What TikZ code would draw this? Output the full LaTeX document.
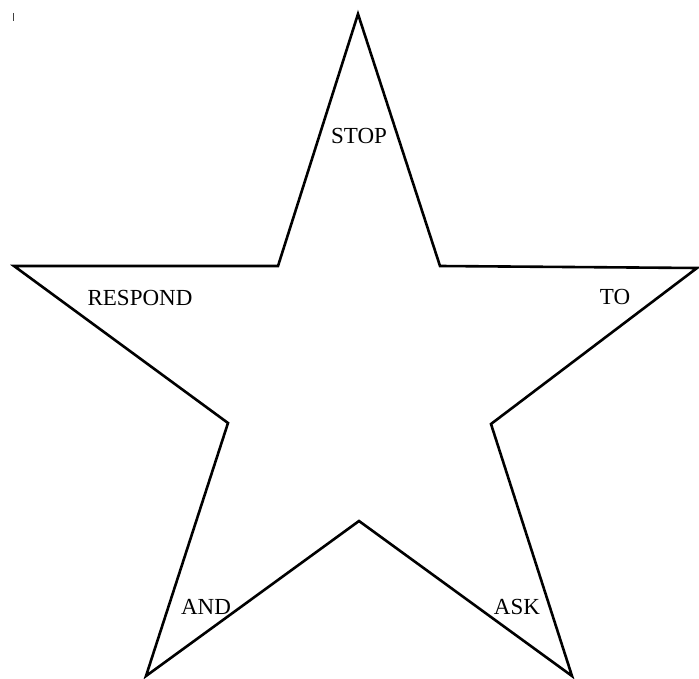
\documentclass[tikz,border=0pt]{standalone}
\usepackage{fontspec}
\setmainfont{Liberation Serif}

\begin{document}
\begin{tikzpicture}[x=1pt,y=-1pt,line join=miter]
\tikzset{word/.style={font=\fontsize{23}{26}\selectfont,inner sep=0pt}}
\useasboundingbox (0,0) rectangle (699,679);
% star points
\coordinate (top) at (358,14);
\coordinate (ul) at (278,266);
\coordinate (lt) at (14,266);
\coordinate (il) at (228,423);
\coordinate (bl) at (146,676);
\coordinate (ib) at (359,521);
\coordinate (br) at (572,676);
\coordinate (ir) at (491,424);
\coordinate (rt) at (697,268);
\coordinate (ur) at (440,266);
\draw[line width=2.6pt] (top) -- (ur) -- (rt) -- (ir) -- (br) -- (ib) -- (bl) -- (il) -- (lt) -- (ul) -- cycle;
% small mark
\draw[darkgray,line width=1.4pt] (13.5,13) -- (13.5,21);
% words
\node[word] (stop) at (359,136) {STOP};
\node[word] (respond) at (140,298) {RESPOND};
\node[word] (to) at (615,297) {TO};
\node[word] (and) at (206,607) {AND};
\node[word] (ask) at (517,607) {ASK};
\end{tikzpicture}
\end{document}
